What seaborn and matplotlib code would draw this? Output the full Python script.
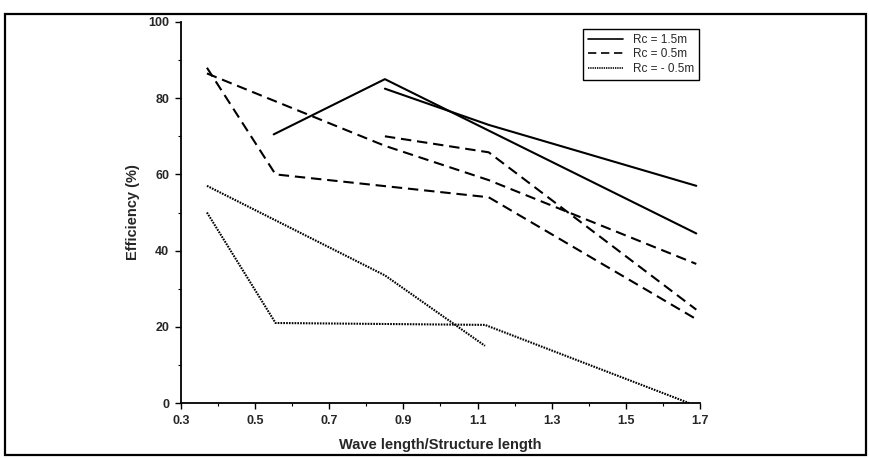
import matplotlib
matplotlib.use("Agg")
import matplotlib.pyplot as plt
import seaborn as sns
import pandas as pd
from matplotlib.patches import Rectangle
from matplotlib.ticker import MultipleLocator

sns.set_theme(style="ticks")
plt.rcParams['font.family'] = ['Liberation Sans', 'DejaVu Sans']

rc_labels = ["Rc = 1.5m", "Rc = 0.5m", "Rc = - 0.5m"]

# Rc = 1.5m curves
x_rc15_a = [0.55, 0.85, 1.69]
y_rc15_a = [70.5, 85.0, 44.5]
x_rc15_b = [0.85, 1.13, 1.69]
y_rc15_b = [82.5, 73.0, 57.0]

# Rc = 0.5m curves
x_rc05_a = [0.37, 0.85, 1.13, 1.69]
y_rc05_a = [86.5, 67.5, 58.5, 36.5]
x_rc05_b = [0.37, 0.555, 1.13, 1.69]
y_rc05_b = [88.0, 60.0, 54.0, 22.0]
x_rc05_c = [0.85, 1.13, 1.69]
y_rc05_c = [70.0, 65.8, 24.5]

# Rc = -0.5m curves
x_rcm05_a = [0.37, 0.85, 1.12]
y_rcm05_a = [57.0, 33.5, 15.0]
x_rcm05_b = [0.37, 0.555, 1.12, 1.67]
y_rcm05_b = [50.0, 21.0, 20.5, 0.0]

curves = [
    ("c1", rc_labels[0], x_rc15_a, y_rc15_a),
    ("c2", rc_labels[0], x_rc15_b, y_rc15_b),
    ("c3", rc_labels[1], x_rc05_a, y_rc05_a),
    ("c4", rc_labels[1], x_rc05_b, y_rc05_b),
    ("c5", rc_labels[1], x_rc05_c, y_rc05_c),
    ("c6", rc_labels[2], x_rcm05_a, y_rcm05_a),
    ("c7", rc_labels[2], x_rcm05_b, y_rcm05_b),
]
rows = []
for cid, rc, xs, ys in curves:
    for xv, yv in zip(xs, ys):
        rows.append({"curve": cid, "Rc": rc, "ratio": xv, "eff": yv})
df = pd.DataFrame(rows)

fig = plt.figure(figsize=(8.7, 4.58), dpi=100)
ax = fig.add_axes([181 / 870, 1 - 403 / 458, (700 - 181) / 870, (403 - 22) / 458])

dash_map = {rc_labels[0]: "", rc_labels[1]: (5, 2.8), rc_labels[2]: (0.8, 0.55)}
sns.lineplot(data=df, x="ratio", y="eff", style="Rc", units="curve",
             estimator=None, sort=False, color="black", dashes=dash_map,
             style_order=rc_labels, linewidth=1.5, ax=ax, legend=True)

ax.set_xlim(0.3, 1.7)
ax.set_ylim(0, 100)
ax.xaxis.set_minor_locator(MultipleLocator(0.1))
ax.yaxis.set_minor_locator(MultipleLocator(10))
ax.set_xticks([0.3, 0.5, 0.7, 0.9, 1.1, 1.3, 1.5, 1.7])
ax.set_xticklabels(["0.3", "0.5", "0.7", "0.9", "1.1", "1.3", "1.5", "1.7"])
ax.set_yticks([0, 20, 40, 60, 80, 100])
ax.set_yticklabels(["0", "20", "40", "60", "80", "100"])

for lab in ax.get_xticklabels() + ax.get_yticklabels():
    lab.set_fontweight("bold")
    lab.set_fontsize(9)
ax.tick_params(which="major", direction="out", length=4.5, width=1, color="black", pad=4)
ax.tick_params(which="minor", direction="out", length=2.5, width=0.8, color="black")

for side in ("top", "right"):
    ax.spines[side].set_visible(False)
for side in ("left", "bottom"):
    ax.spines[side].set_color("black")
    ax.spines[side].set_linewidth(1.3)

ax.set_xlabel("Wave length/Structure length", fontsize=10.5, fontweight="bold", labelpad=8)
ax.set_ylabel("Efficiency (%)", fontsize=10.5, fontweight="bold", labelpad=6)
ax.set_facecolor("white")

handles, labels = ax.get_legend_handles_labels()
pairs = [(h, l) for h, l in zip(handles, labels) if l in rc_labels]
leg = ax.legend([p[0] for p in pairs], [p[1] for p in pairs],
                loc="upper right", bbox_to_anchor=(1.004, 0.99), fontsize=8.5,
                frameon=True, fancybox=False, edgecolor="black", framealpha=1,
                handlelength=3.0, handletextpad=0.8, borderpad=0.4,
                labelspacing=0.2, borderaxespad=0.3)
leg.get_frame().set_linewidth(1.0)
for h in leg.get_lines():
    h.set_linewidth(1.2)

# outer page frame around the chart
fig.patches.append(Rectangle((5 / 870, 3 / 458), 861 / 870, 441 / 458,
                             transform=fig.transFigure, fill=False,
                             edgecolor="black", linewidth=1.6))

fig.savefig("out.png", dpi=100, facecolor="white")
